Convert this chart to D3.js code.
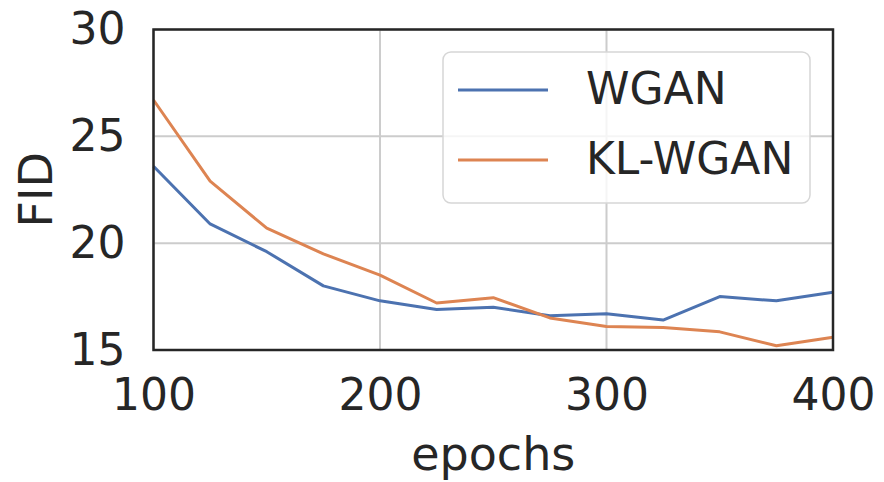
<!DOCTYPE html>
<html>
<head>
<meta charset="utf-8">
<script src="https://cdn.jsdelivr.net/npm/d3@7"></script>
<style>
  body { margin: 0; background: #fff; }
  svg { display: block; }
  text { font-family: "DejaVu Sans", sans-serif; fill: #262626; }
</style>
</head>
<body>
<svg id="chart"></svg>
<script>
const epochs = [100, 125, 150, 175, 200, 225, 250, 275, 300, 325, 350, 375, 400];
const wgan = [23.6, 20.9, 19.6, 18.0, 17.3, 16.9, 17.0, 16.6, 16.7, 16.4, 17.5, 17.3, 17.7];
const klWgan = [26.7, 22.9, 20.7, 19.5, 18.5, 17.2, 17.45, 16.5, 16.1, 16.05, 15.85, 15.2, 15.6];
const seriesNames = ["WGAN", "KL-WGAN"];
const xTicks = [100, 200, 300, 400];
const yTicks = [15, 20, 25, 30];

const W = 884, H = 482;
const margin = { top: 29.5, right: 51, bottom: 132, left: 153.5 };
const width = W - margin.left - margin.right;
const height = H - margin.top - margin.bottom;
const colors = ["#4c72b0", "#dd8452"];

const svg = d3.select("#chart").attr("width", W).attr("height", H);
const g = svg.append("g").attr("transform", `translate(${margin.left},${margin.top})`);

const x = d3.scaleLinear().domain([100, 400]).range([0, width]);
const y = d3.scaleLinear().domain([15, 30]).range([height, 0]);

// grid
g.append("g").selectAll("line").data(xTicks).join("line")
  .attr("x1", d => x(d)).attr("x2", d => x(d))
  .attr("y1", 0).attr("y2", height)
  .attr("stroke", "#cccccc").attr("stroke-width", 2);
g.append("g").selectAll("line").data(yTicks).join("line")
  .attr("x1", 0).attr("x2", width)
  .attr("y1", d => y(d)).attr("y2", d => y(d))
  .attr("stroke", "#cccccc").attr("stroke-width", 2);

// axes
const xAxis = g.append("g")
  .attr("transform", `translate(0,${height})`)
  .call(d3.axisBottom(x).tickValues(xTicks).tickSize(0).tickPadding(29));
const yAxis = g.append("g")
  .call(d3.axisLeft(y).tickValues(yTicks).tickSize(0).tickPadding(28));
[xAxis, yAxis].forEach(a => {
  a.select(".domain").remove();
  a.selectAll("text").attr("font-size", 44).attr("font-family", "DejaVu Sans").attr("fill", "#262626");
});

// lines
const line = d3.line().x((d, i) => x(epochs[i])).y(d => y(d));
[wgan, klWgan].forEach((s, i) => {
  g.append("path").datum(s)
    .attr("fill", "none")
    .attr("stroke", colors[i])
    .attr("stroke-width", 3)
    .attr("stroke-linejoin", "round")
    .attr("d", line);
});

// frame
g.append("rect").attr("width", width).attr("height", height)
  .attr("fill", "none").attr("stroke", "#262626").attr("stroke-width", 2.5);

// legend
const legend = g.append("g").attr("transform", `translate(${443 - margin.left},${52 - margin.top})`);
legend.append("rect")
  .attr("width", 367).attr("height", 151).attr("rx", 8)
  .attr("fill", "white").attr("fill-opacity", 0.8)
  .attr("stroke", "#d6d6d6").attr("stroke-width", 1.5);
seriesNames.forEach((name, i) => {
  const ly = 38 + i * 70;
  legend.append("line")
    .attr("x1", 15).attr("x2", 105).attr("y1", ly).attr("y2", ly)
    .attr("stroke", colors[i]).attr("stroke-width", 3);
  legend.append("text")
    .attr("x", 143).attr("y", ly + 14)
    .attr("font-size", 44)
    .text(name);
});

// labels
svg.append("text")
  .attr("x", margin.left + width / 2).attr("y", 470)
  .attr("text-anchor", "middle").attr("font-size", 46)
  .text("epochs");
svg.append("text")
  .attr("transform", `translate(52,${margin.top + height / 2}) rotate(-90)`)
  .attr("text-anchor", "middle").attr("font-size", 46)
  .text("FID");
</script>
</body>
</html>
